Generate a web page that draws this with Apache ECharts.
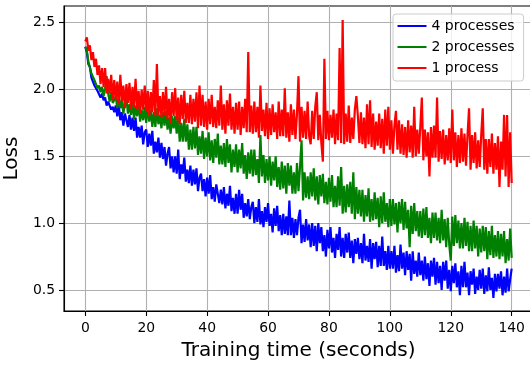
<!DOCTYPE html>
<html><head><meta charset="utf-8">
<script src="https://cdn.jsdelivr.net/npm/echarts@6.0.0/dist/echarts.min.js"></script>
<style>html,body{margin:0;padding:0;background:#fff}#c{width:530px;height:367px}</style>
</head><body><div id="c"></div>
<script>
// sampling step of the recorded losses, seconds
const timeStep = 0.5;

const loss4 = [
2.32,2.28,2.19,2.17,2.09,2.09,2.03,2.04,1.99,1.98,
1.94,1.97,1.92,1.94,1.88,1.91,1.91,1.85,1.87,1.83,
1.88,1.80,1.88,1.77,1.83,1.73,1.82,1.77,1.72,1.81,
1.70,1.79,1.69,1.79,1.64,1.72,1.64,1.73,1.59,1.68,
1.70,1.57,1.67,1.58,1.69,1.52,1.61,1.53,1.64,1.49,
1.60,1.48,1.57,1.43,1.52,1.57,1.41,1.50,1.38,1.50,
1.37,1.55,1.33,1.44,1.37,1.49,1.31,1.40,1.30,1.43,
1.28,1.40,1.29,1.41,1.24,1.34,1.37,1.24,1.33,1.20,
1.34,1.22,1.36,1.18,1.27,1.16,1.29,1.30,1.15,1.25,
1.14,1.27,1.11,1.22,1.13,1.28,1.09,1.19,1.07,1.22,
1.07,1.25,1.10,1.22,1.04,1.15,1.05,1.18,1.03,1.12,
1.16,1.00,1.12,1.01,1.18,0.99,1.09,0.97,1.12,1.01,
1.15,0.98,1.07,0.93,1.11,0.98,1.13,0.94,1.06,0.91,
1.07,0.92,1.05,0.91,1.17,0.91,1.04,0.89,1.03,0.91,
1.04,1.10,0.85,0.99,0.86,1.03,0.87,0.99,0.82,1.00,
0.83,0.98,0.79,1.00,0.85,0.97,0.79,0.91,0.75,0.95,
0.81,0.97,0.78,0.89,0.74,0.92,0.80,0.97,0.75,0.89,
0.74,0.92,0.78,0.93,0.74,0.87,0.70,0.88,0.77,0.89,
0.73,0.85,0.70,0.92,0.72,0.83,0.71,0.88,0.66,0.85,
0.73,0.86,0.67,0.83,0.68,0.90,0.68,0.79,0.65,0.83,
0.66,0.79,0.66,0.83,0.63,0.76,0.64,0.84,0.66,0.78,
0.61,0.79,0.65,0.77,0.57,0.79,0.62,0.72,0.60,0.78,
0.61,0.72,0.57,0.75,0.58,0.70,0.53,0.72,0.60,0.74,
0.54,0.71,0.55,0.68,0.50,0.71,0.57,0.72,0.51,0.65,
0.49,0.68,0.55,0.70,0.52,0.64,0.46,0.68,0.52,0.71,
0.52,0.63,0.46,0.64,0.54,0.66,0.47,0.60,0.50,0.65,
0.51,0.66,0.47,0.61,0.49,0.67,0.50,0.59,0.44,0.62,
0.49,0.62,0.51,0.64,0.46,0.60,0.48,0.66,0.49,0.58,
0.66];

const loss2 = [
2.32,2.29,2.21,2.21,2.12,2.13,2.07,2.08,2.01,2.03,
1.98,2.02,1.95,2.01,2.10,1.97,1.91,1.98,1.90,1.92,
1.95,1.86,1.95,1.86,1.92,1.82,1.90,1.93,1.82,1.89,
1.81,1.91,1.78,1.88,1.80,1.90,1.76,1.85,1.77,1.87,
1.75,1.87,1.76,1.85,1.72,1.83,1.72,1.86,1.74,1.81,
1.71,1.83,1.73,1.84,1.70,1.79,1.67,1.80,1.71,1.80,
1.67,1.80,1.61,1.75,1.61,1.78,1.61,1.74,1.55,1.70,
1.55,1.72,1.56,1.72,1.51,1.65,1.52,1.69,1.48,1.64,
1.50,1.68,1.47,1.62,1.45,1.63,1.49,1.67,1.44,1.58,
1.44,1.60,1.42,1.63,1.45,1.59,1.38,1.55,1.42,1.59,
1.38,1.55,1.41,1.60,1.37,1.51,1.33,1.53,1.37,1.55,
1.35,1.55,1.36,1.48,1.30,1.66,1.35,1.51,1.30,1.48,
1.32,1.50,1.28,1.46,1.32,1.50,1.27,1.42,1.25,1.46,
1.26,1.43,1.22,1.45,1.28,1.43,1.22,1.38,1.22,1.45,
1.24,1.42,1.62,1.17,1.38,1.19,1.35,1.18,1.38,1.20,
1.41,1.17,1.35,1.14,1.36,1.20,1.37,1.15,1.31,1.14,
1.34,1.16,1.36,1.12,1.28,1.12,1.35,1.13,1.42,1.07,
1.28,1.08,1.29,1.12,1.31,1.07,1.38,1.03,1.27,1.07,
1.25,1.05,1.25,1.01,1.21,1.05,1.26,1.01,1.18,1.02,
1.23,1.03,1.19,0.97,1.20,1.00,1.23,1.01,1.15,0.97,
1.18,0.98,1.18,0.99,1.15,0.93,1.16,1.00,1.18,0.95,
1.16,0.96,1.10,0.82,1.13,0.92,1.15,0.94,1.09,0.90,
1.09,0.89,1.11,0.91,1.12,0.89,1.04,0.85,1.08,0.89,
1.08,0.87,1.04,0.85,1.10,0.87,1.03,0.82,1.04,0.84,
0.72,1.05,0.83,1.06,0.85,1.02,0.81,1.00,0.81,1.04,
0.83,1.01,0.79,0.98,0.79,1.02,0.81,0.98,0.75,0.96,
0.78,0.98,0.79,0.97,0.73,0.94,0.76,0.98,0.74,0.91,
0.75,0.94,0.73,0.92,0.75,0.94,0.70,0.88,0.72,0.96,
0.74];

const loss1 = [
2.36,2.39,2.29,2.33,2.22,2.28,2.17,2.23,2.11,2.18,
2.04,2.16,2.02,2.16,1.97,2.08,1.97,2.11,1.92,2.07,
1.92,2.06,1.89,2.11,1.91,2.03,1.86,2.04,1.90,2.05,
1.85,2.02,1.87,2.08,1.85,1.99,1.82,2.00,1.85,2.03,
1.84,1.99,1.80,1.98,1.83,2.07,1.80,2.19,1.81,1.95,
1.79,1.98,1.81,2.02,1.78,1.93,1.75,1.98,1.80,2.01,
1.77,1.94,1.74,1.96,1.78,1.99,1.75,1.90,1.75,1.96,
1.74,1.93,1.76,1.98,1.71,2.03,1.73,1.96,1.72,1.91,
1.70,1.93,1.74,1.96,1.72,1.87,1.71,1.92,1.73,2.03,
1.70,1.89,1.67,1.92,1.73,1.97,1.70,1.87,1.67,1.90,
1.70,1.91,1.66,1.87,1.71,1.93,1.68,2.28,1.68,1.88,
1.67,1.91,1.68,1.87,1.64,2.03,1.69,1.85,1.65,1.90,
1.63,1.86,1.66,1.89,1.68,1.83,1.63,1.91,1.65,1.85,
1.65,2.01,1.64,1.83,1.61,1.89,1.66,1.85,1.63,1.82,
2.10,1.61,1.87,1.64,1.84,1.63,1.91,1.65,1.59,1.84,
1.63,1.87,1.98,1.62,1.81,1.60,1.46,2.23,1.63,1.84,
1.62,1.81,1.64,1.85,1.59,1.82,1.62,2.31,1.60,2.52,
1.59,1.82,1.61,1.88,1.60,1.79,1.63,1.85,1.95,1.80,
1.60,1.83,1.59,1.79,1.56,1.89,1.59,1.92,1.57,1.82,
1.55,1.76,1.58,1.82,1.56,1.78,1.52,1.85,1.58,1.87,
1.55,1.77,1.52,1.73,1.84,1.55,1.77,1.52,1.74,1.51,
1.72,1.49,1.77,1.53,1.73,1.49,1.87,1.50,1.70,1.52,
1.72,1.94,1.47,1.70,1.50,1.68,1.35,1.72,1.49,1.73,
1.49,1.94,1.46,1.69,1.48,1.70,1.44,1.66,1.47,1.71,
1.45,1.85,1.47,1.68,1.42,1.66,1.45,1.71,1.46,1.67,
1.43,1.66,1.86,1.40,1.66,1.45,1.68,1.41,1.62,1.42,
1.66,1.86,1.40,1.63,1.37,1.63,1.42,1.67,1.37,1.60,
1.40,1.65,1.27,1.61,1.40,1.81,1.35,1.81,1.27,1.68,
1.30];

const seriesNames = ['4 processes', '2 processes', '1 process'];
const seriesColors = ['#0000ff', '#008000', '#ff0000'];
const xTicks = [0, 20, 40, 60, 80, 100, 120, 140];
const yTicks = [0.5, 1.0, 1.5, 2.0, 2.5];

const FONT = 'DejaVu Sans';
const toPairs = arr => arr.map((v, i) => [i * timeStep, v]);
const allLoss = [loss4, loss2, loss1];

const chart = echarts.init(document.getElementById('c'), null, {renderer: 'canvas'});
chart.setOption({
  backgroundColor: '#ffffff',
  animation: false,
  grid: {
    left: 64, top: 6, right: -3, bottom: 56,
    show: true, borderColor: '#000', borderWidth: 1.1,
    backgroundColor: 'transparent',
    containLabel: false, outerBoundsMode: 'none'
  },
  legend: {
    orient: 'vertical', left: 393, top: 14,
    icon: 'rect',
    itemWidth: 29, itemHeight: 2, itemGap: 7, itemTextGap: 11,
    padding: [5, 9, 6, 4.5],
    backgroundColor: 'rgba(255,255,255,0.8)',
    borderColor: '#cccccc', borderWidth: 1, borderRadius: 3,
    textStyle: {fontSize: 14, color: '#000', fontFamily: FONT},
    data: seriesNames
  },
  xAxis: {
    type: 'value', min: -7, max: 147, splitNumber: 8,
    axisLine: {show: true, onZero: false, lineStyle: {color: '#000', width: 1.1}},
    axisTick: {show: true, inside: false, length: 5, customValues: xTicks, lineStyle: {color: '#000', width: 1.1}},
    axisLabel: {customValues: xTicks, color: '#000', fontSize: 13.9, fontFamily: FONT, margin: 10},
    splitLine: {show: true, lineStyle: {color: '#b0b0b0', width: 1.1}},
    name: 'Training time (seconds)', nameLocation: 'middle', nameGap: 30,
    nameTextStyle: {fontSize: 20, color: '#000', fontFamily: FONT}
  },
  yAxis: {
    type: 'value', min: 0.3425, max: 2.625, splitNumber: 5,
    axisLine: {show: true, onZero: false, lineStyle: {color: '#000', width: 1.1}},
    axisTick: {show: true, inside: false, length: 5, customValues: yTicks, lineStyle: {color: '#000', width: 1.1}},
    axisLabel: {customValues: yTicks, color: '#000', fontSize: 13.9, fontFamily: FONT, margin: 9,
      formatter: v => Number(v).toFixed(1)},
    splitLine: {show: true, lineStyle: {color: '#b0b0b0', width: 1.1}},
    name: 'Loss', nameLocation: 'middle', nameGap: 33, nameRotate: 90,
    nameTextStyle: {fontSize: 20, color: '#000', fontFamily: FONT}
  },
  series: seriesNames.map((name, k) => ({
    type: 'line', name: name, data: toPairs(allLoss[k]),
    symbol: 'none', showSymbol: false, sampling: null,
    lineStyle: {color: seriesColors[k], width: 2.2},
    itemStyle: {color: seriesColors[k]},
    z: 2 + k
  }))
});
</script>
</body></html>
